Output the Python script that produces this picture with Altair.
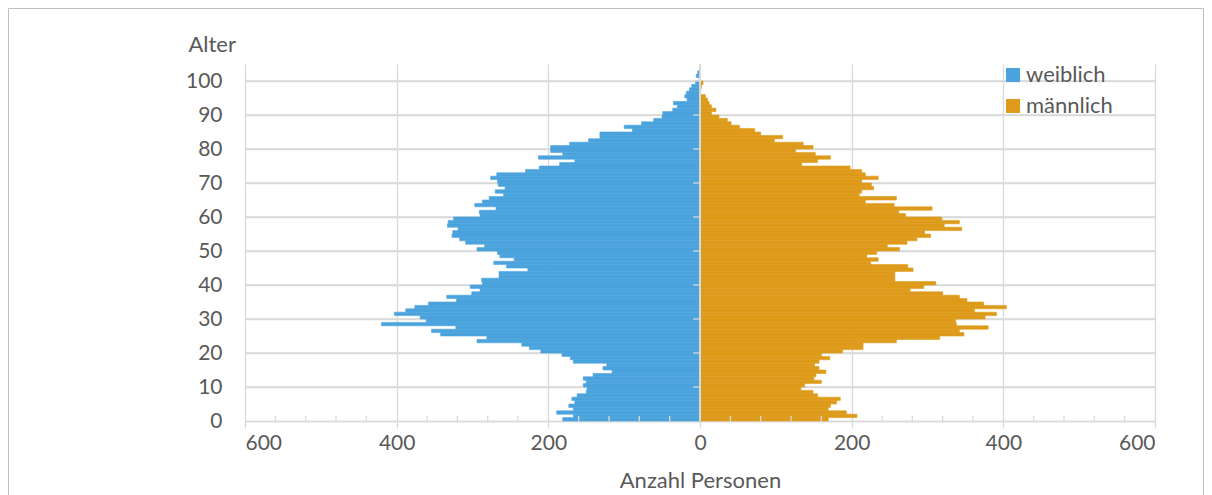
import altair as alt
import pandas as pd

# ---- data ----
ages = list(range(103))
weiblich = [181, 167, 189, 167, 173, 165, 169, 162, 150, 149,
            154, 150, 154, 141, 116, 128, 123, 167, 171, 182,
            210, 225, 235, 294, 281, 342, 354, 322, 420, 361,
            369, 403, 388, 376, 358, 321, 334, 301, 290, 303,
            287, 288, 265, 265, 227, 255, 272, 245, 264, 267,
            294, 284, 309, 317, 327, 326, 319, 333, 332, 325,
            290, 291, 269, 297, 287, 278, 259, 270, 257, 266,
            267, 276, 268, 230, 212, 185, 165, 213, 181, 197,
            197, 172, 147, 132, 132, 89, 100, 77, 61, 50,
            49, 36, 30, 35, 17, 20, 18, 14, 11, 6,
            1, 5, 3]
maennlich = [169, 207, 193, 169, 172, 180, 185, 155, 149, 133,
             138, 160, 150, 153, 166, 157, 151, 157, 171, 160,
             188, 215, 215, 259, 316, 348, 342, 380, 338, 337,
             376, 391, 362, 404, 374, 352, 342, 320, 277, 295,
             311, 257, 257, 257, 281, 274, 225, 235, 220, 233,
             263, 247, 273, 286, 304, 296, 345, 322, 342, 319,
             271, 262, 306, 256, 218, 259, 210, 213, 229, 226,
             213, 235, 218, 213, 198, 134, 155, 172, 152, 126,
             149, 136, 98, 109, 80, 72, 52, 41, 36, 25,
             15, 21, 15, 12, 10, 7, 0, 1, 2, 4,
             0, 0, 0]
sexes = ["weiblich", "männlich"]
colors = ["#4BA3DD", "#DE9A1A"]
x_ticks = [-600, -400, -200, 0, 200, 400, 600]
y_ticks = list(range(0, 101, 10))
minor_ticks = [v for v in range(-560, 561, 40) if v % 200 != 0]

rows = []
for a, f, m in zip(ages, weiblich, maennlich):
    rows.append({"alter": a, "alter2": a + 1, "geschlecht": sexes[0], "wert": -f})
    rows.append({"alter": a, "alter2": a + 1, "geschlecht": sexes[1], "wert": m})
df = pd.DataFrame(rows)

GRID = "#D9D9D9"
TXT = "#595959"
FONT = "Lato"
FS_TICK = 21
FS = 22

x_scale = alt.Scale(domain=[-600, 600], nice=False)
y_scale = alt.Scale(domain=[0, 105], nice=False)

x_axis = alt.Axis(values=x_ticks, labelExpr="format(abs(datum.value), 'd')",
                  grid=True, gridColor=GRID, gridWidth=1.3,
                  domainColor=GRID, domainWidth=1.5,
                  tickColor=GRID, tickSize=7, tickWidth=1.3,
                  labelPadding=4, titlePadding=17, labelOverlap=False,
                  labelFont=FONT, labelFontSize=FS_TICK, labelColor=TXT,
                  titleFont=FONT, titleFontSize=FS, titleColor=TXT,
                  titleFontWeight="normal", title="Anzahl Personen")
y_axis = alt.Axis(values=y_ticks, tickCount=11, grid=True, gridColor=GRID, gridWidth=1.3,
                  domain=False, ticks=False, tickSize=0, labelPadding=23,
                  labelOverlap=False, labelBound=False, labelFlush=False,
                  labelFont=FONT, labelFontSize=FS_TICK, labelColor=TXT,
                  titleFont=FONT, titleFontSize=FS, titleColor=TXT,
                  titleFontWeight="normal", titleAngle=0, titleAlign="left",
                  titleBaseline="middle", titleX=-57, titleY=-20, title="Alter")


def X(field):
    return alt.X(field, scale=x_scale, axis=x_axis)


def Y(field):
    return alt.Y(field, scale=y_scale, axis=y_axis)


color_scale = alt.Scale(domain=sexes, range=colors)

bars = alt.Chart(df).mark_rect(strokeWidth=0.6).encode(
    x=X("wert:Q"),
    x2=alt.datum(0),
    y=Y("alter:Q"),
    y2="alter2:Q",
    stroke=alt.Stroke("geschlecht:N", scale=color_scale, legend=None),
    color=alt.Color("geschlecht:N", scale=color_scale,
                    legend=alt.Legend(title=None, orient="none", legendX=757, legendY=0,
                                      symbolType="square", symbolSize=196,
                                      symbolStrokeWidth=0, symbolOpacity=1,
                                      labelFont=FONT, labelFontSize=FS, labelColor=TXT,
                                      rowPadding=9, labelOffset=2, padding=0)),
)

# horizontal grid lines every 10 years
h_grid = alt.Chart(alt.Data(values=[{"alter": v} for v in y_ticks[1:]])).mark_rule(
    color=GRID, strokeWidth=1.3).encode(y=Y("alter:Q"))

zero_rule = alt.Chart(alt.Data(values=[{"wert": 0}])).mark_rule(
    color=GRID, strokeWidth=2).encode(x=X("wert:Q"))

y_tick_marks = alt.Chart(alt.Data(values=[{"alter": v} for v in y_ticks[1:]])).mark_tick(
    orient="horizontal", size=7, thickness=1.3, color=GRID, xOffset=-3.5, opacity=1
).encode(y=Y("alter:Q"), x=alt.XDatum(0, scale=x_scale, axis=x_axis))

x_minor = alt.Chart(alt.Data(values=[{"wert": v} for v in minor_ticks])).mark_tick(
    orient="vertical", size=5, thickness=1.3, color=GRID, yOffset=-2.5, opacity=1
).encode(x=X("wert:Q"), y=alt.YDatum(0, scale=y_scale, axis=y_axis))

frame = alt.Chart(alt.Data(values=[{"f": 1}])).mark_rect(
    fillOpacity=0, stroke="#BFBFBF", strokeWidth=1
).encode(x=alt.value(-236.5), x2=alt.value(958.5), y=alt.value(-55.5), y2=alt.value(446))

chart = alt.layer(frame, h_grid, bars, zero_rule, y_tick_marks, x_minor).properties(
    width=910, height=357, padding=0, background="white"
).configure_view(stroke=None).configure_axis(labelOverlap=False)

chart.save("out.html", embed_options={"renderer": "svg", "actions": False})
